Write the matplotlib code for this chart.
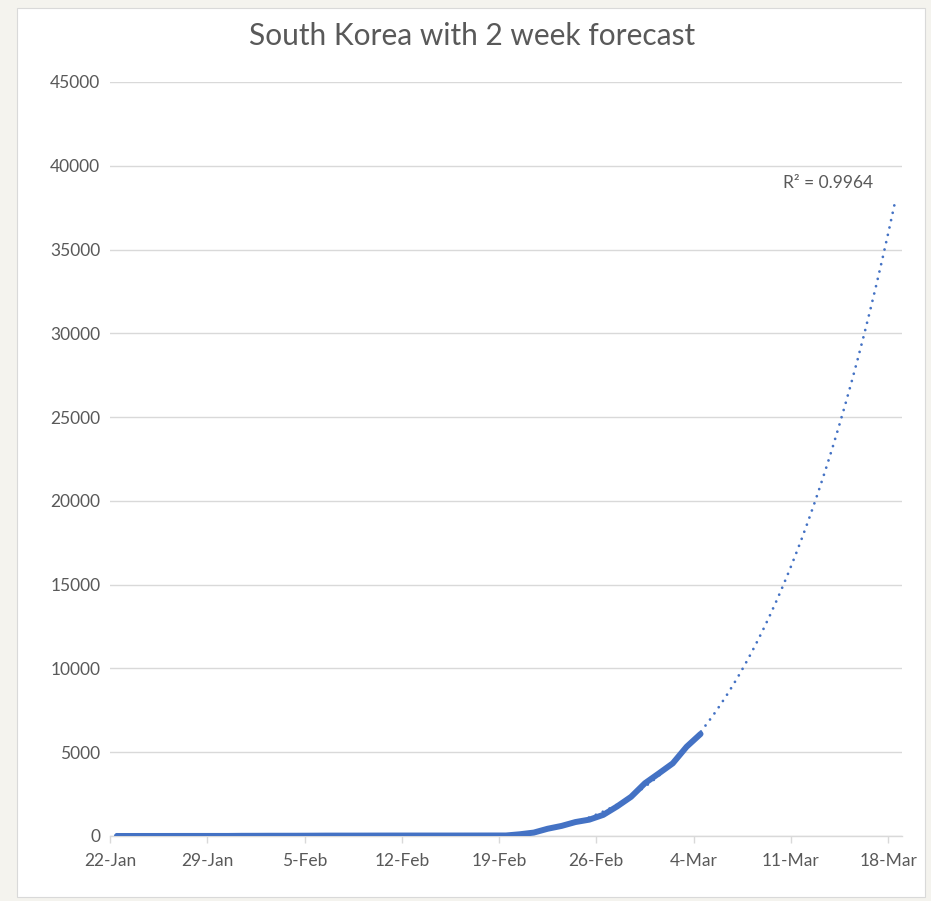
import numpy as np
import matplotlib
matplotlib.use('Agg')
import matplotlib.pyplot as plt
from matplotlib.patches import Rectangle

# confirmed cases, one per day from 22-Jan to 4-Mar
cases = [1, 1, 2, 2, 3, 4, 4, 4, 4, 11, 12, 15, 15, 16, 19, 23, 24, 24, 25, 27,
         28, 28, 28, 28, 28, 29, 30, 31, 31, 104, 204, 433, 602, 833, 977, 1261,
         1766, 2337, 3150, 3736, 4335, 5328, 6088]
tick_labels = ['22-Jan', '29-Jan', '5-Feb', '12-Feb', '19-Feb', '26-Feb',
               '4-Mar', '11-Mar', '18-Mar']
forecast_days = 14
trend_order = 4
r2_label = 'R² = 0.9964'

BLUE = '#4472c4'
GREY = '#595959'
GRID = '#d9d9d9'
plt.rcParams['font.family'] = ['Lato', 'DejaVu Sans']

days = np.arange(len(cases))
coef = np.polyfit(days, np.array(cases, float), trend_order)
xt = np.linspace(0, days[-1] + forecast_days, 500)
trend = np.polyval(coef, xt)

fig = plt.figure(figsize=(9.31, 9.01), dpi=100)
fig.patch.set_facecolor('#f4f3ee')
fig.patches.append(Rectangle((17 / 931, 1 - 897 / 901), 908 / 931, 889 / 901,
                             transform=fig.transFigure, facecolor='white',
                             edgecolor=GRID, lw=0.8, zorder=-5))

ax = fig.add_axes([110 / 931, 1 - 836 / 901, 792 / 931, 754 / 901])
ax.set_facecolor('none')

# points sit between the weekly tick marks
ax.plot(days + 0.5, cases, color=BLUE, lw=4.3, solid_capstyle='round',
        solid_joinstyle='round', zorder=3)
ax.plot(xt + 0.5, trend, color=BLUE, lw=2.0, linestyle=(0, (0.01, 2.7)),
        dash_capstyle='round', zorder=4)

ax.set_xlim(0, 57)
ax.set_ylim(0, 45000)
ax.set_xticks(np.arange(0, 57, 7))
ax.set_xticklabels(tick_labels)
ax.set_yticks(np.arange(0, 45001, 5000))
ax.set_yticklabels([str(v) for v in range(0, 45001, 5000)])

ax.grid(axis='y', color=GRID, lw=1.0)
ax.set_axisbelow(True)
for s in ('top', 'right', 'left'):
    ax.spines[s].set_visible(False)
ax.spines['bottom'].set_color(GRID)
ax.spines['bottom'].set_linewidth(1.0)
ax.tick_params(axis='x', colors=GRID, length=5, width=1.0, pad=7,
               labelcolor=GREY, labelsize=12.5)
ax.tick_params(axis='y', length=0, pad=7, labelcolor=GREY, labelsize=12.5)

ax.text(54.9, 39000, r2_label, ha='right', va='center', color=GREY, fontsize=12.5)

fig.text(0.507, 0.960, 'South Korea with 2 week forecast', ha='center',
         va='center', color=GREY, fontsize=21.5)

fig.savefig('out.png', dpi=100, facecolor=fig.get_facecolor())
